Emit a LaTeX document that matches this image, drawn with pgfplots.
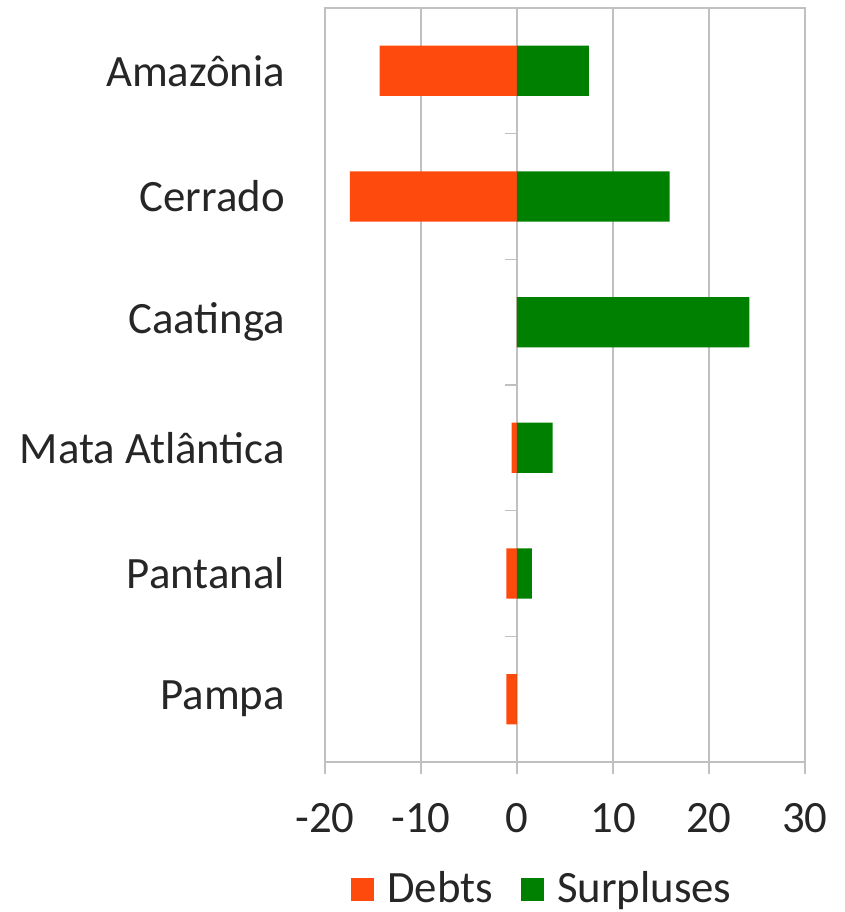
\documentclass[border=0pt]{standalone}
\usepackage{fontspec}
\setmainfont{Carlito}
\usepackage{pgfplots}
\pgfplotsset{compat=1.18}

\definecolor{debtcol}{HTML}{FF4A0D}
\definecolor{surpcol}{HTML}{008000}
\definecolor{gridcol}{HTML}{C0C0C0}
\definecolor{labcol}{HTML}{262626}

\begin{document}
\begin{tikzpicture}
\useasboundingbox (-162.5pt,-75pt) rectangle (260pt,381pt);
\begin{axis}[
    scale only axis,
    width=240pt, height=377pt,
    xmin=-20, xmax=30,
    ymin=-0.5, ymax=5.5,
    y dir=reverse,
    xtick={-20,-10,0,10,20,30},
    xticklabels={-20,-10,0,10,20,30},
    ytick={0,1,2,3,4,5},
    yticklabels={Amazônia,Cerrado,Caatinga,Mata Atlântica,Pantanal,Pampa},
    xmajorgrids=true,
    grid style={gridcol, line width=0.75pt},
    axis line style={gridcol, line width=0.75pt},
    xtick pos=lower,
    xtick align=outside,
    major tick length=6pt,
    xtick style={gridcol, line width=0.75pt},
    ytick style={draw=none},
    tick label style={font=\fontsize{22.4}{26}\selectfont, text=labcol},
    xticklabel style={yshift=-11pt},
    yticklabel style={xshift=-16.5pt},
    legend style={at={(0.455,-0.168)}, anchor=center, draw=none,
        font=\fontsize{22.4}{26}\selectfont, text=labcol,
        /tikz/every even column/.append style={column sep=12pt}},
    legend columns=2,
    legend image code/.code={\fill[#1] (0pt,-6pt) rectangle (11.5pt,5.5pt); \path (16pt,0pt);},
]
\pgfplotsinvokeforeach{-0.5,0.5,1.5,2.5,3.5,4.5,5.5}{
    \draw[gridcol, line width=0.75pt] (axis cs:0,#1) -- ++(-6pt,0pt);
}
\addplot[xbar, bar width=0.4, bar shift=0pt, fill=debtcol, draw=none]
    coordinates {(-14.3,0) (-17.4,1) (0,2) (-0.55,3) (-1.1,4) (-1.1,5)};
\addlegendentry{Debts}
\addplot[xbar, bar width=0.4, bar shift=0pt, fill=surpcol, draw=none]
    coordinates {(7.5,0) (15.9,1) (24.2,2) (3.7,3) (1.56,4) (0,5)};
\addlegendentry{Surpluses}
\end{axis}
\end{tikzpicture}
\end{document}
